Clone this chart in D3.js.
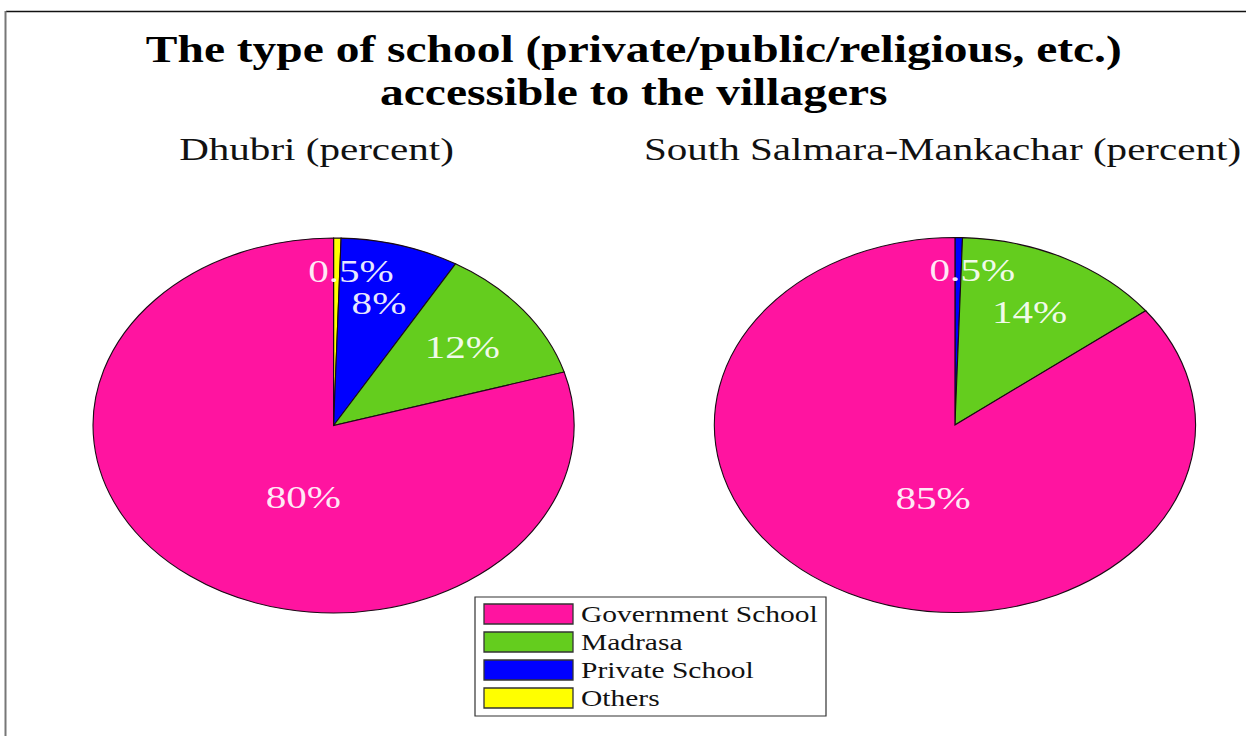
<!DOCTYPE html>
<html>
<head>
<meta charset="utf-8">
<script src="https://cdn.jsdelivr.net/npm/d3@7"></script>
<style>
  html, body { margin: 0; padding: 0; background: #fff; }
  svg { display: block; }
</style>
</head>
<body>
<svg id="chart" width="1246" height="736"></svg>
<script>
// School types, in legend order
const categories = ["Government School", "Madrasa", "Private School", "Others"];
const colors = ["#ff14a0", "#64cd1e", "#0000ff", "#ffff00"];

// Share of villages by accessible school type (percent)
const dhubriValues = [80, 12, 8, 0.5];
const salmaraValues = [85, 14, 0.5, 0];

const districtTitles = ["Dhubri (percent)", "South Salmara-Mankachar (percent)"];
const titleLines = [
  "The type of school (private/public/religious, etc.)",
  "accessible to the villagers"
];

const W = 1246, H = 736;
const SX = 1.283;            // horizontal stretch of the figure
const svg = d3.select("#chart");

// frame lines
svg.append("line").attr("x1", 6).attr("x2", W).attr("y1", 11.5).attr("y2", 11.5)
  .attr("stroke", "#111").attr("stroke-width", 1.5);
svg.append("line").attr("x1", 5.5).attr("x2", 5.5).attr("y1", 11).attr("y2", H)
  .attr("stroke", "#777").attr("stroke-width", 2);

const g = svg.append("g").attr("transform", `scale(${SX},1)`);
const innerW = W / SX;

// title
g.append("g").selectAll("text").data(titleLines).join("text")
  .attr("x", 494)
  .attr("y", (d, i) => 62 + i * 43)
  .attr("text-anchor", "middle")
  .attr("font-family", "'Liberation Serif', 'Times New Roman', serif")
  .attr("font-weight", "bold")
  .attr("font-size", 37)
  .attr("fill", "#000")
  .text(d => d);

const R = 187.5;
const panels = [
  { title: districtTitles[0], values: dhubriValues, cx: 260, cy: 425.5, tx: 246.7 },
  { title: districtTitles[1], values: salmaraValues, cx: 744.3, cy: 425, tx: 734.6 }
];

const pie = d3.pie().sort(null).value(d => d.value).startAngle(0).endAngle(2 * Math.PI);
const arc = d3.arc().innerRadius(0).outerRadius(R);

panels.forEach(p => {
  g.append("text")
    .attr("x", p.tx).attr("y", 160)
    .attr("text-anchor", "middle")
    .attr("font-family", "'Liberation Serif', 'Times New Roman', serif")
    .attr("font-size", 32)
    .attr("fill", "#111")
    .text(p.title);

  // slices run clockwise from 12 o'clock: Others, Private, Madrasa, Government
  const rows = categories.map((c, i) => ({ cat: c, value: p.values[i], color: colors[i] })).reverse();
  const arcs = pie(rows).filter(d => d.data.value > 0);
  const total = d3.sum(rows, d => d.value);

  const pg = g.append("g").attr("transform", `translate(${p.cx},${p.cy})`);
  pg.selectAll("path").data(arcs).join("path")
    .attr("d", arc)
    .attr("fill", d => d.data.color)
    .attr("stroke", "#1a0a14")
    .attr("stroke-width", 1.1)
    .attr("vector-effect", "non-scaling-stroke");

  const labelPos = d => {
    const share = d.data.value / total;
    let a = (d.startAngle + d.endAngle) / 2;
    let r = 0.68;
    if (share > 0.5) { a = (a + Math.PI) / 2; r = 0.4; }
    else if (share < 0.02) { a = Math.max(a, 5 * Math.PI / 180); r = 0.83; }
    return [Math.sin(a) * R * r, -Math.cos(a) * R * r];
  };

  pg.selectAll("text").data(arcs).join("text")
    .attr("x", d => labelPos(d)[0])
    .attr("y", d => labelPos(d)[1])
    .attr("dy", "0.35em")
    .attr("text-anchor", "middle")
    .attr("font-family", "'Liberation Serif', 'Times New Roman', serif")
    .attr("font-size", 32)
    .attr("fill", "#fff")
    .attr("fill-opacity", 0.92)
    .text(d => d.data.value + "%");
});

// legend
const lg = g.append("g");
lg.append("rect")
  .attr("x", 475 / SX).attr("y", 597)
  .attr("width", (826 - 475) / SX).attr("height", 119)
  .attr("fill", "#fff").attr("stroke", "#333").attr("stroke-width", 1.2)
  .attr("vector-effect", "non-scaling-stroke");
const items = lg.selectAll("g.item").data(categories).join("g")
  .attr("class", "item")
  .attr("transform", (d, i) => `translate(0,${604 + i * 28})`);
items.append("rect")
  .attr("x", 484 / SX).attr("y", 0)
  .attr("width", (573 - 484) / SX).attr("height", 20)
  .attr("fill", (d, i) => colors[i])
  .attr("stroke", "#333").attr("stroke-width", 1.3)
  .attr("vector-effect", "non-scaling-stroke");
items.append("text")
  .attr("x", 581 / SX).attr("y", 17.5)
  .attr("font-family", "'Liberation Serif', 'Times New Roman', serif")
  .attr("font-size", 23)
  .attr("fill", "#111")
  .text(d => d);
</script>
</body>
</html>
